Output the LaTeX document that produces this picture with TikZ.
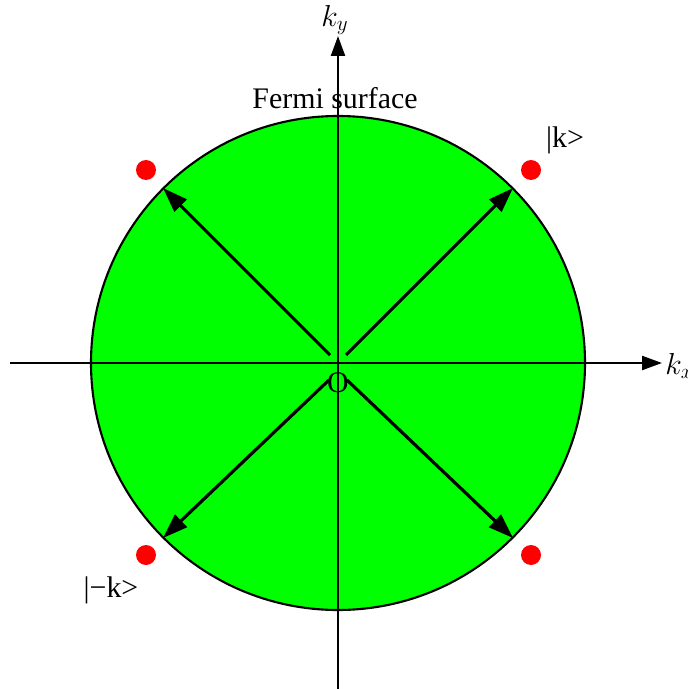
\documentclass[tikz,border=0pt]{standalone}
\usepackage{fontspec}
\setmainfont{Liberation Serif}
\usepackage{tikz}
\usetikzlibrary{arrows.meta, positioning}
\usepackage{xcolor}
\definecolor{fermigreen}{RGB}{0, 255, 0}
\definecolor{pairred}{RGB}{255, 0, 0}
\tikzset{
  axis/.style={line width=1.3pt, -{Triangle[length=0.4cm, width=0.28cm]}},
  kvec/.style={line width=1.8pt, -{Triangle[length=0.5cm, width=0.34cm]}},
  electron/.style={circle, fill=pairred, inner sep=0pt, minimum size=0.4cm},
  lbl/.style={font=\fontsize{17}{20}\selectfont, inner sep=0pt},
}

\begin{document}
\begin{tikzpicture}[x=0.02cm, y=-0.02cm]
    \useasboundingbox (0,0) rectangle (688,689);

    % Fermi sea
    \coordinate (o) at (338,363);
    \draw[line width=1.2pt, fill=fermigreen] (o) circle[radius=247];

    % axes
    \coordinate (xl) at (10,363);
    \coordinate (xr) at (662,363);
    \coordinate (yb) at (338,689);
    \coordinate (yt) at (338,36);
    \draw[axis] (xl) -- (xr);
    \draw[axis] (yb) -- (yt);
    \node[lbl, anchor=west] (kx) at (665,366) {$k_x$};
    \node[lbl] (ky) at (335,20) {$k_y$};
    \node[lbl] (origin) at (338,383) {O};
    \node[lbl] (fs) at (335,98) {Fermi surface};

    % momentum vectors
    \coordinate (sne) at (346,355);
    \coordinate (snw) at (330,355);
    \coordinate (ssw) at (329,380);
    \coordinate (sse) at (347,380);
    \coordinate (ene) at (513,188);
    \coordinate (enw) at (163,188);
    \coordinate (esw) at (163,538);
    \coordinate (ese) at (513,538);
    \draw[kvec] (sne) -- (ene);
    \draw[kvec] (snw) -- (enw);
    \draw[kvec] (ssw) -- (esw);
    \draw[kvec] (sse) -- (ese);

    % paired states
    \node[electron] (pne) at (531,170) {};
    \node[electron] (pnw) at (146,170) {};
    \node[electron] (psw) at (146,555) {};
    \node[electron] (pse) at (531,555) {};
    \node[lbl] (kup) at (565,140) {|k>};
    \node[lbl] (kdown) at (111,590) {|−k>};
\end{tikzpicture}
\end{document}
